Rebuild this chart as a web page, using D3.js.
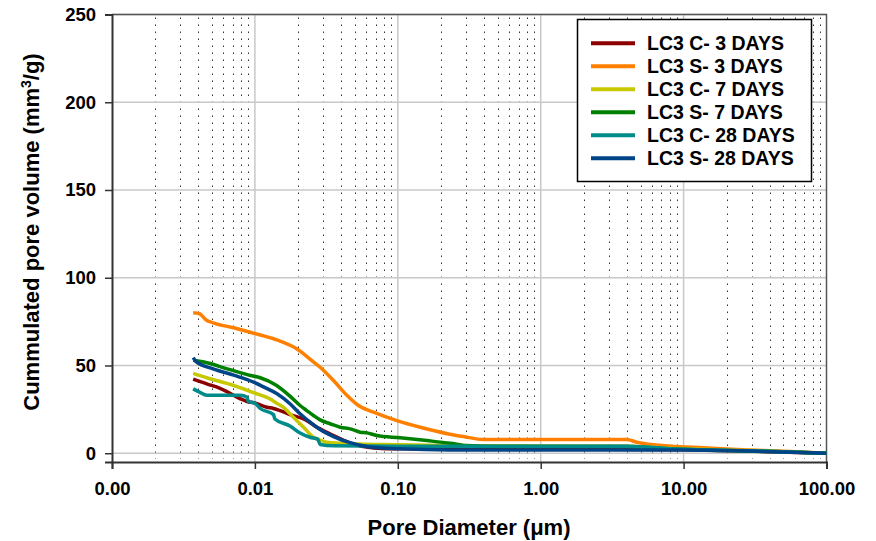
<!DOCTYPE html>
<html>
<head>
<meta charset="utf-8">
<script src="https://cdn.jsdelivr.net/npm/d3@7"></script>
<style>
	body { margin: 0; background: #fff; }
	text { font-family: "Liberation Sans", Arial, sans-serif; font-weight: bold; fill: #000; }
</style>
</head>
<body>
<svg width="876" height="541"></svg>
<script>
// series names, colours and points: [pore diameter (µm), volume (mm3/g)]
var seriesNames = ["LC3 C- 3 DAYS", "LC3 S- 3 DAYS", "LC3 C- 7 DAYS", "LC3 S- 7 DAYS", "LC3 C- 28 DAYS", "LC3 S- 28 DAYS"];
var seriesColors = ["#8b0000", "#ff8000", "#c8c800", "#008000", "#008b8b", "#004488"];

var c3 = [[0.0037,42.2],[0.0046,39.5],[0.0057,37],[0.0064,35],[0.0079,31],[0.0088,29.5],[0.0098,28.8],[0.0121,26.2],[0.0135,25.5],[0.015,24.3],[0.0176,22],[0.0219,19.5],[0.0231,18.6],[0.0272,14.8],[0.0286,13.9],[0.0355,10.1],[0.0464,5.8],[0.0676,3],[0.1,2.5],[1,2.5],[10,2],[30,1.2],[100,0]];
var s3 = [[0.0037,80],[0.0041,79.5],[0.00425,78.5],[0.00455,76],[0.0051,74.3],[0.0071,71.5],[0.0098,68.4],[0.0142,64.6],[0.0196,59.5],[0.0257,52],[0.0286,49],[0.0355,41.4],[0.044,33],[0.053,27.2],[0.0676,23.4],[0.0986,18.6],[0.1435,14.8],[0.2265,11],[0.288,9.5],[0.398,7.8],[1,7.8],[4,7.8],[4.7,6.3],[8.1,4],[13.8,3.1],[27.9,1.9],[62,0.8],[100,0]];
var c7 = [[0.0037,45.5],[0.0046,43],[0.0071,38.6],[0.0098,34.5],[0.0127,31],[0.0142,28.5],[0.0158,26.2],[0.0176,22.5],[0.0186,20.5],[0.0219,14.8],[0.0257,9.1],[0.0286,7.5],[0.0318,6.3],[0.0464,5.4],[0.1,4.8],[0.3,4.3],[4,4],[10,2.5],[30,1.5],[100,0]];
var s7 = [[0.0037,53],[0.0044,52],[0.0064,48.1],[0.0093,44.3],[0.0109,43],[0.0142,38.6],[0.0176,32.5],[0.0207,27.2],[0.0231,24.3],[0.0257,21.5],[0.0286,19],[0.0336,16.8],[0.0395,14.8],[0.0464,13.9],[0.0546,12],[0.0608,11.6],[0.0714,10.1],[0.104,8.8],[0.16,7.2],[0.233,5.7],[0.305,4.4],[0.5,3.8],[4,3.8],[8,2.5],[20,1.5],[50,0.8],[100,0]];
var c28 = [[0.0037,36.7],[0.0041,34.8],[0.0046,33],[0.0079,33],[0.0088,32],[0.009,29.5],[0.01,28.5],[0.0109,25.5],[0.0135,22],[0.0138,19.5],[0.0176,15.5],[0.0207,11.5],[0.0243,9.1],[0.0275,8],[0.0286,5],[0.0355,4.2],[0.1,4],[4,4],[10,2.2],[30,1.4],[100,0]];
var s28 = [[0.0037,54.5],[0.0039,52],[0.0051,48.1],[0.0071,44.5],[0.0098,40.5],[0.0115,37.8],[0.0142,34],[0.0176,28.2],[0.0207,22.5],[0.0243,17.7],[0.0286,13.5],[0.0355,9.5],[0.0464,6],[0.0608,3.8],[0.104,2.5],[0.233,1.9],[1,1.9],[10,1.8],[30,1.2],[100,0]];
var seriesData = [c3, s3, c7, s7, c28, s28];

var xTicks = [0.001, 0.01, 0.1, 1, 10, 100];
var yTicks = [0, 50, 100, 150, 200, 250];

var svg = d3.select("svg");
var plotLeft = 112, plotRight = 826.5, plotTop = 14.5, plotBottom = 462;

var x = d3.scaleLog().domain([0.001, 100]).range([plotLeft, plotRight]);
var y = d3.scaleLinear().domain([-5, 250]).range([plotBottom, plotTop]);

// minor dotted gridlines (2..9 in every decade)
var minor = [];
for (var d = 0; d < xTicks.length - 1; d++) {
	for (var k = 2; k <= 9; k++) minor.push(xTicks[d] * k);
}
svg.append("g").selectAll("line")
	.data(minor)
	.enter().append("line")
	.attr("x1", function(d){ return Math.round(x(d)) + 0.5; })
	.attr("x2", function(d){ return Math.round(x(d)) + 0.5; })
	.attr("y1", plotTop + 3)
	.attr("y2", plotBottom - 3)
	.style("stroke", "#333")
	.style("stroke-width", 1)
	.style("stroke-dasharray", "1.5,5.5");

// major gridlines
svg.append("g").selectAll("line")
	.data(xTicks.slice(1, -1))
	.enter().append("line")
	.attr("x1", function(d){ return x(d); })
	.attr("x2", function(d){ return x(d); })
	.attr("y1", plotTop)
	.attr("y2", plotBottom)
	.style("stroke", "#c8c8c8")
	.style("stroke-width", 1.5);

svg.append("g").selectAll("line")
	.data(yTicks)
	.enter().append("line")
	.attr("x1", plotLeft)
	.attr("x2", plotRight)
	.attr("y1", function(d){ return y(d); })
	.attr("y2", function(d){ return y(d); })
	.style("stroke", "#c8c8c8")
	.style("stroke-width", 1.5);

// frame top / right
svg.append("path")
	.attr("d", "M" + plotLeft + "," + plotTop + "H" + plotRight + "V" + plotBottom)
	.style("fill", "none")
	.style("stroke", "#555")
	.style("stroke-width", 1.5);

// axes
var yAxis = svg.append("g")
	.attr("transform", "translate(" + plotLeft + ",0)")
	.call(d3.axisLeft(y).tickValues(yTicks).tickSize(7).tickPadding(9).tickFormat(d3.format("d")));
var xAxis = svg.append("g")
	.attr("transform", "translate(0," + plotBottom + ")")
	.call(d3.axisBottom(x).tickValues(xTicks).tickSize(7).tickPadding(13).tickFormat(function(d){ return d.toFixed(2); }));

[yAxis, xAxis].forEach(function(a){
	a.select(".domain").style("stroke", "#333").style("stroke-width", 2);
	a.selectAll(".tick line").style("stroke", "#333").style("stroke-width", 1.5);
	a.selectAll(".tick text")
		.style("font-family", "'Liberation Sans', Arial, sans-serif")
		.style("font-weight", "bold")
		.style("font-size", "18.5px")
		.style("fill", "#000");
});

// series
var line = d3.line()
	.curve(d3.curveMonotoneX)
	.x(function(d){ return x(d[0]); })
	.y(function(d){ return y(d[1]); });

svg.append("g").selectAll("path")
	.data(seriesData)
	.enter().append("path")
	.attr("d", line)
	.style("fill", "none")
	.style("stroke", function(d, i){ return seriesColors[i]; })
	.style("stroke-width", 3.5)
	.style("stroke-linejoin", "round");

// legend
var legend = svg.append("g");
legend.append("rect")
	.attr("x", 577.5).attr("y", 19.5)
	.attr("width", 234).attr("height", 162)
	.style("fill", "#fff")
	.style("stroke", "#000")
	.style("stroke-width", 1.5);

var item = legend.selectAll("g.item")
	.data(seriesNames)
	.enter().append("g")
	.attr("class", "item")
	.attr("transform", function(d, i){ return "translate(0," + (43.3 + i * 23) + ")"; });
item.append("line")
	.attr("x1", 591).attr("x2", 635)
	.style("stroke", function(d, i){ return seriesColors[i]; })
	.style("stroke-width", 4);
item.append("text")
	.attr("x", 647)
	.attr("y", 7)
	.style("font-size", "19.5px")
	.text(function(d){ return d; });

// axis titles
svg.append("text")
	.attr("x", 469)
	.attr("y", 535)
	.attr("text-anchor", "middle")
	.style("font-size", "22px")
	.text("Pore Diameter (\u03bcm)");

var yt = svg.append("text")
	.attr("transform", "translate(39,232) rotate(-90)")
	.attr("text-anchor", "middle")
	.style("font-size", "22px");
yt.append("tspan").text("Cummulated pore volume (mm");
yt.append("tspan").attr("dy", -8).style("font-size", "14px").text("3");
yt.append("tspan").attr("dy", 8).text("/g)");
</script>
</body>
</html>
